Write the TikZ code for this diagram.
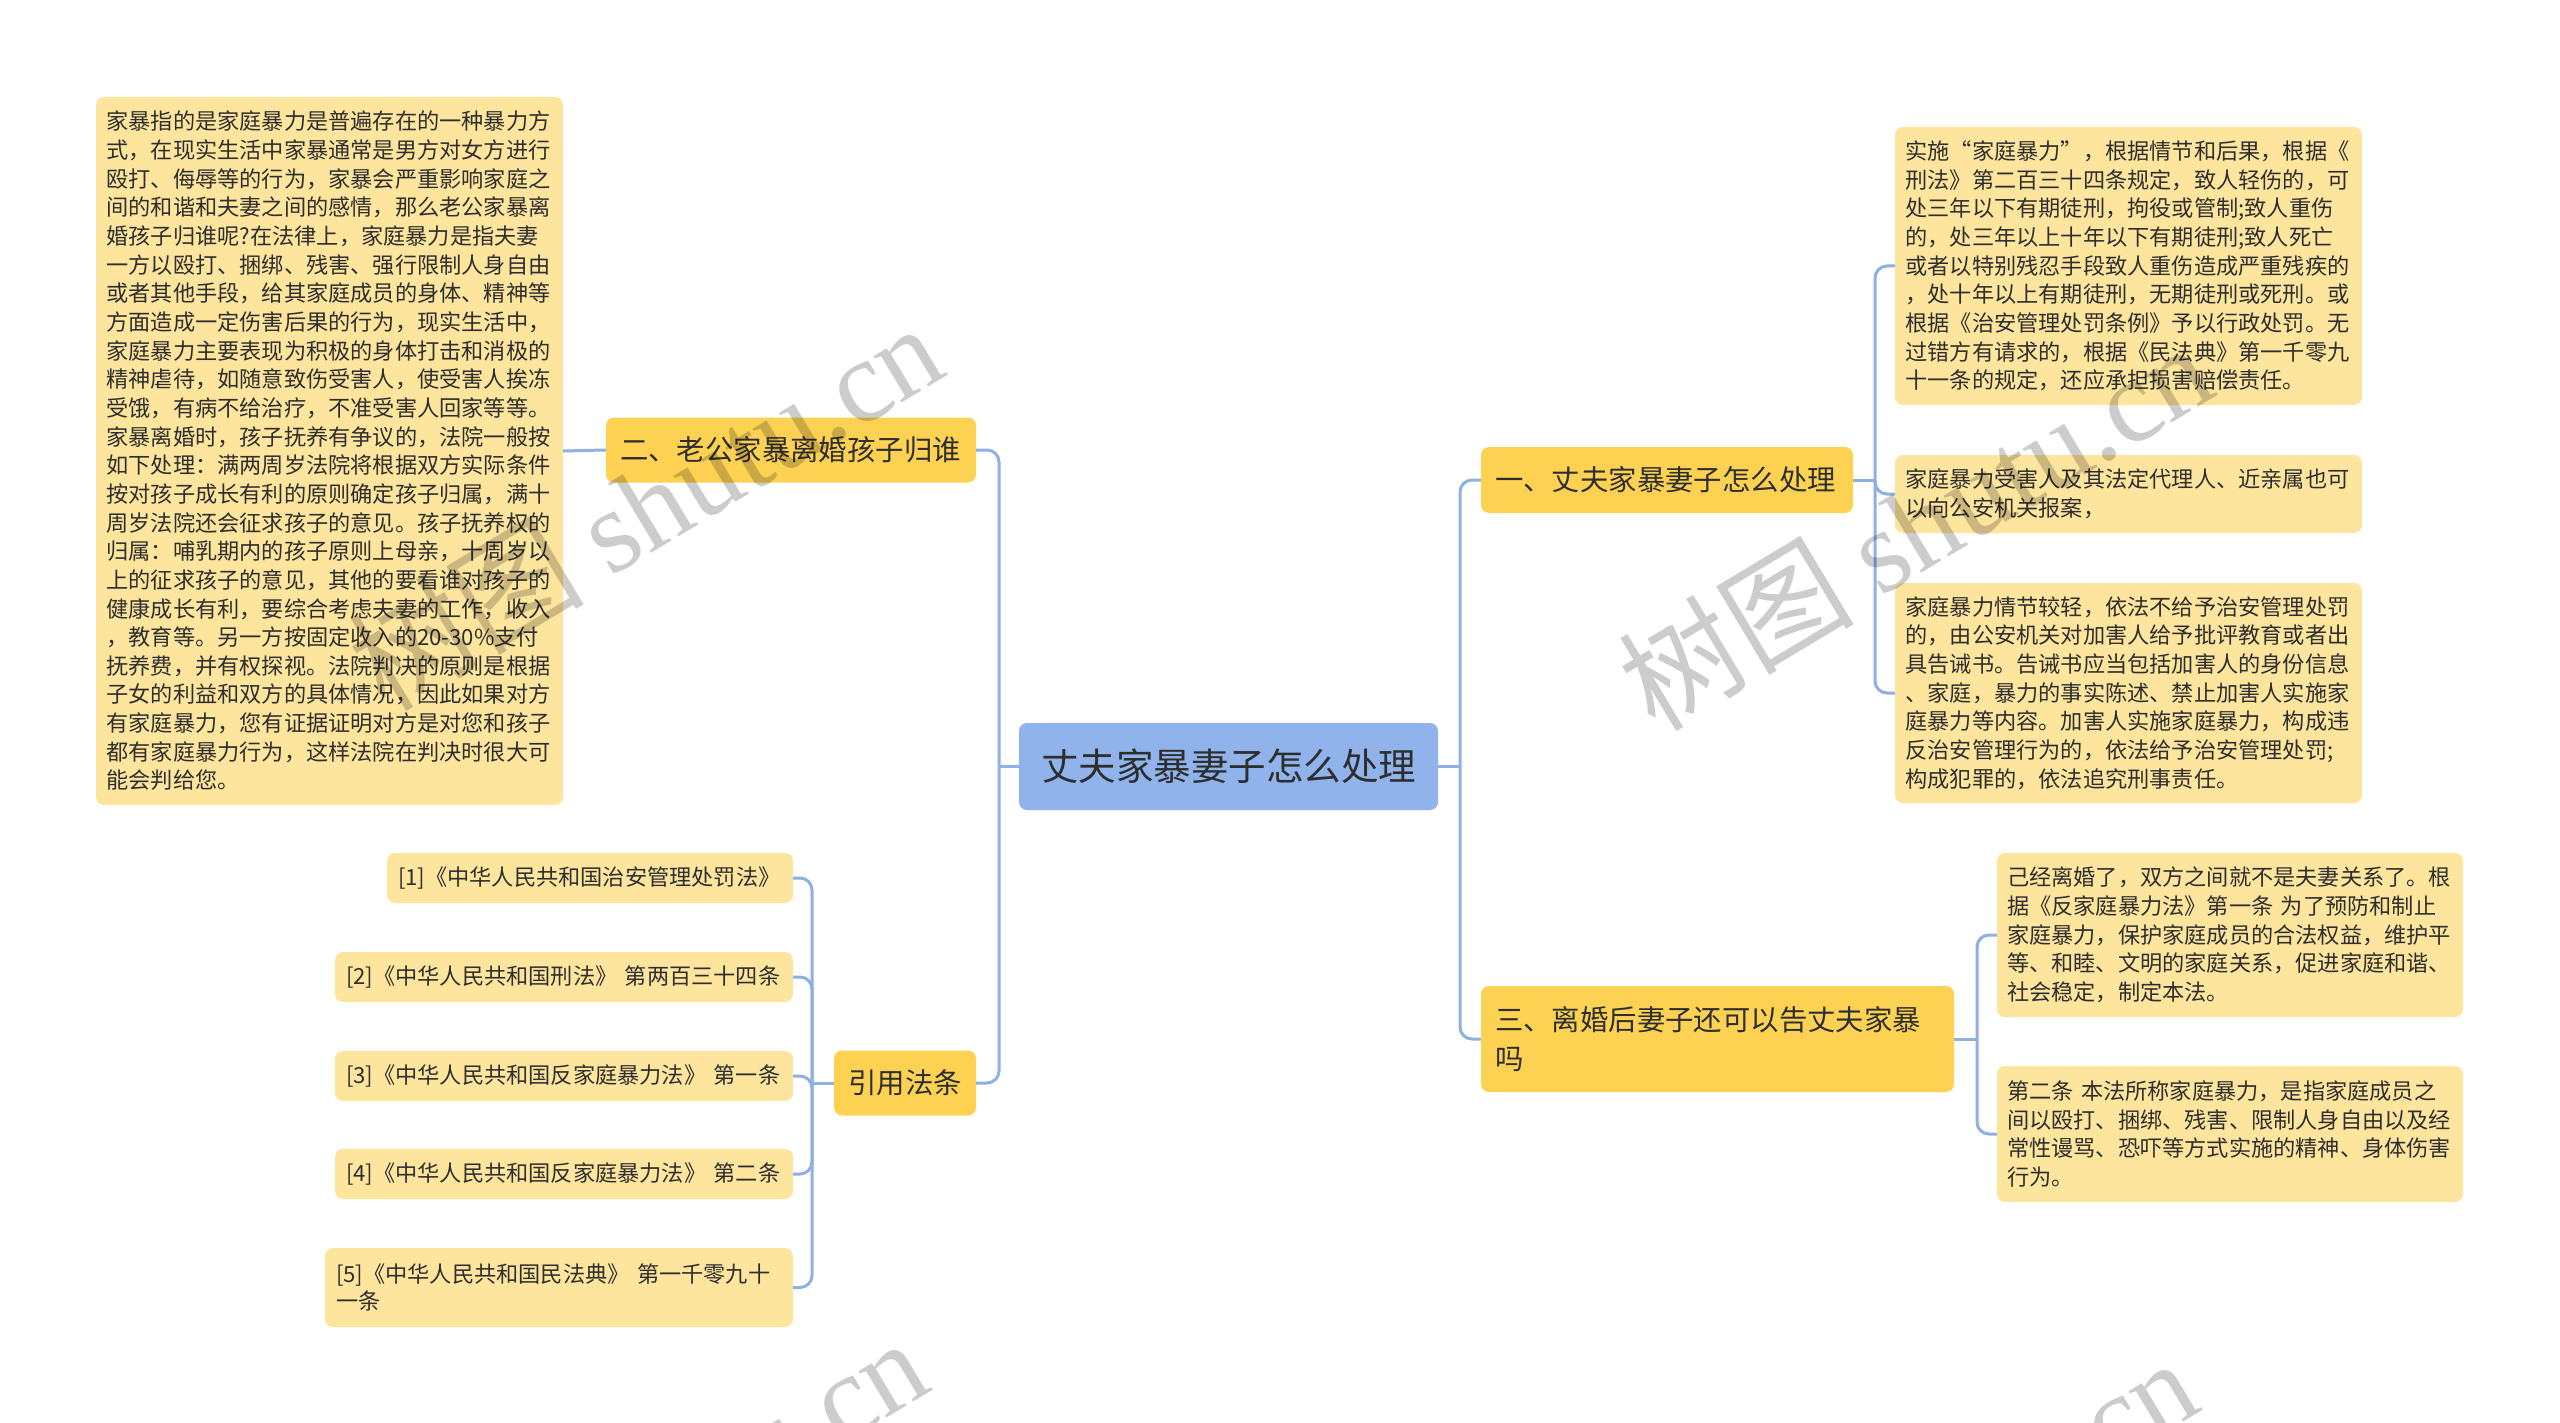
\documentclass[tikz,border=0pt]{standalone}
\usepackage{fontspec}
\setmainfont{Noto Sans CJK SC}
\newfontfamily\wmcjk{Noto Sans CJK SC}
\newfontfamily\wmlat{Liberation Serif}
\definecolor{rootc}{HTML}{8FB3EA}
\definecolor{mainc}{HTML}{FDD253}
\definecolor{leafc}{HTML}{FEE59D}
\definecolor{linec}{HTML}{8FB0E2}
\definecolor{txt}{HTML}{2E2E2E}
\begin{document}
\begin{tikzpicture}[x=1pt,y=-1pt,
  box/.style={rounded corners=8pt, inner sep=0pt, text=txt, anchor=center},
  leaf/.style={box, fill=leafc, align=left, font=\fontsize{22.2}{28.65}\selectfont},
  mainbox/.style={box, fill=mainc, align=left, font=\fontsize{28.4}{39}\selectfont},
  rootbox/.style={box, fill=rootc, align=center, font=\fontsize{37.5}{45}\selectfont},
  conn/.style={draw=linec, line width=3pt, rounded corners=12pt},
  wm/.style={text=black, text opacity=0.2, inner sep=0pt, rotate=31, font=\fontsize{118}{128}\selectfont}
]
\useasboundingbox (0,0) rectangle (2560,1423);
\fill[white] (0,0) rectangle (2560,1423);

% root
\node[rootbox, minimum width=419pt, minimum height=87pt] (root) at (1228.5,766.5) {丈夫家暴妻子怎么处理};

% left main branches
\node[mainbox, minimum width=370pt, minimum height=65pt, text width=342pt] (er) at (791,450) {二、老公家暴离婚孩子归谁};
\node[mainbox, align=center, minimum width=142pt, minimum height=65pt] (yy) at (905,1083) {引用法条};

% right main branches
\node[mainbox, minimum width=372pt, minimum height=66pt, text width=344pt] (yi) at (1667,480) {一、丈夫家暴妻子怎么处理};
\node[mainbox, minimum width=473pt, minimum height=106pt, text width=445pt] (san) at (1717.5,1039) {三、离婚后妻子还可以告丈夫家暴\\吗};

% big left leaf
\node[leaf, minimum width=467pt, minimum height=708pt, text width=446pt] (big) at (329.5,451) {家暴指的是家庭暴力是普遍存在的一种暴力方\\式，在现实生活中家暴通常是男方对女方进行\\殴打、侮辱等的行为，家暴会严重影响家庭之\\间的和谐和夫妻之间的感情，那么老公家暴离\\婚孩子归谁呢?在法律上，家庭暴力是指夫妻\\一方以殴打、捆绑、残害、强行限制人身自由\\或者其他手段，给其家庭成员的身体、精神等\\方面造成一定伤害后果的行为，现实生活中，\\家庭暴力主要表现为积极的身体打击和消极的\\精神虐待，如随意致伤受害人，使受害人挨冻\\受饿，有病不给治疗，不准受害人回家等等。\\家暴离婚时，孩子抚养有争议的，法院一般按\\如下处理：满两周岁法院将根据双方实际条件\\按对孩子成长有利的原则确定孩子归属，满十\\周岁法院还会征求孩子的意见。孩子抚养权的\\归属：哺乳期内的孩子原则上母亲，十周岁以\\上的征求孩子的意见，其他的要看谁对孩子的\\健康成长有利，要综合考虑夫妻的工作，收入\\，教育等。另一方按固定收入的20-30\%支付\\抚养费，并有权探视。法院判决的原则是根据\\子女的利益和双方的具体情况，因此如果对方\\有家庭暴力，您有证据证明对方是对您和孩子\\都有家庭暴力行为，这样法院在判决时很大可\\能会判给您。};

% references
\node[leaf, minimum width=406pt, minimum height=50pt, text width=384pt] (r1) at (590,878) {[1]《中华人民共和国治安管理处罚法》};
\node[leaf, minimum width=458pt, minimum height=50pt, text width=436pt] (r2) at (564,977) {[2]《中华人民共和国刑法》~第两百三十四条};
\node[leaf, minimum width=458pt, minimum height=50pt, text width=436pt] (r3) at (564,1076) {[3]《中华人民共和国反家庭暴力法》~第一条};
\node[leaf, minimum width=458pt, minimum height=50pt, text width=436pt] (r4) at (564,1174) {[4]《中华人民共和国反家庭暴力法》~第二条};
\node[leaf, minimum width=468pt, minimum height=79pt, text width=446pt, font=\fontsize{22.2}{27}\selectfont] (r5) at (559,1287.5) {[5]《中华人民共和国民法典》~第一千零九十\\一条};

% right leaves of 一
\node[leaf, minimum width=467pt, minimum height=278pt, text width=446pt] (la) at (2128.5,266) {实施“家庭暴力”，根据情节和后果，根据《\\刑法》第二百三十四条规定，致人轻伤的，可\\处三年以下有期徒刑，拘役或管制;致人重伤\\的，处三年以上十年以下有期徒刑;致人死亡\\或者以特别残忍手段致人重伤造成严重残疾的\\，处十年以上有期徒刑，无期徒刑或死刑。或\\根据《治安管理处罚条例》予以行政处罚。无\\过错方有请求的，根据《民法典》第一千零九\\十一条的规定，还应承担损害赔偿责任。};
\node[leaf, minimum width=467pt, minimum height=78pt, text width=446pt] (lb) at (2128.5,494) {家庭暴力受害人及其法定代理人、近亲属也可\\以向公安机关报案，};
\node[leaf, minimum width=467pt, minimum height=220pt, text width=446pt] (lc) at (2128.5,693) {家庭暴力情节较轻，依法不给予治安管理处罚\\的，由公安机关对加害人给予批评教育或者出\\具告诫书。告诫书应当包括加害人的身份信息\\、家庭，暴力的事实陈述、禁止加害人实施家\\庭暴力等内容。加害人实施家庭暴力，构成违\\反治安管理行为的，依法给予治安管理处罚;\\构成犯罪的，依法追究刑事责任。};

% right leaves of 三
\node[leaf, minimum width=466pt, minimum height=164pt, text width=446pt] (ld) at (2230,935) {己经离婚了，双方之间就不是夫妻关系了。根\\据《反家庭暴力法》第一条~为了预防和制止\\家庭暴力，保护家庭成员的合法权益，维护平\\等、和睦、文明的家庭关系，促进家庭和谐、\\社会稳定，制定本法。};
\node[leaf, minimum width=466pt, minimum height=136pt, text width=446pt] (le) at (2230,1134) {第二条~本法所称家庭暴力，是指家庭成员之\\间以殴打、捆绑、残害、限制人身自由以及经\\常性谩骂、恐吓等方式实施的精神、身体伤害\\行为。};

% trunk coordinates
\coordinate (tL) at (999,766.5);
\coordinate (tR) at (1460,766.5);
\coordinate (t1) at (1875,480);
\coordinate (t3) at (1977,1039);
\coordinate (t4) at (812,1083);

% connectors
\draw[conn] (root.west) -- (tL);
\draw[conn] (er.east) -| (tL);
\draw[conn] (yy.east) -| (tL);
\draw[conn] (root.east) -- (tR);
\draw[conn] (yi.west) -| (tR);
\draw[conn] (san.west) -| (tR);
\draw[conn] (big.east) -- (er.west);
\draw[conn] (yi.east) -- (t1);
\draw[conn] (la.west) -| (t1);
\draw[conn] (lb.west) -| (t1);
\draw[conn] (lc.west) -| (t1);
\draw[conn] (san.east) -- (t3);
\draw[conn] (ld.west) -| (t3);
\draw[conn] (le.west) -| (t3);
\draw[conn] (yy.west) -- (t4);
\draw[conn] (r1.east) -| (t4);
\draw[conn] (r2.east) -| (t4);
\draw[conn] (r3.east) -| (t4);
\draw[conn] (r4.east) -| (t4);
\draw[conn] (r5.east) -| (t4);

% watermarks
\node[wm] (w1) at (645,505) {{\wmcjk 树图} {\wmlat shutu.cn}};
\node[wm] (w2) at (1915,525) {{\wmcjk 树图} {\wmlat shutu.cn}};
\node[wm] (w3) at (630,1520) {{\wmcjk 树图} {\wmlat shutu.cn}};
\node[wm] (w4) at (1900,1540) {{\wmcjk 树图} {\wmlat shutu.cn}};
\end{tikzpicture}
\end{document}
